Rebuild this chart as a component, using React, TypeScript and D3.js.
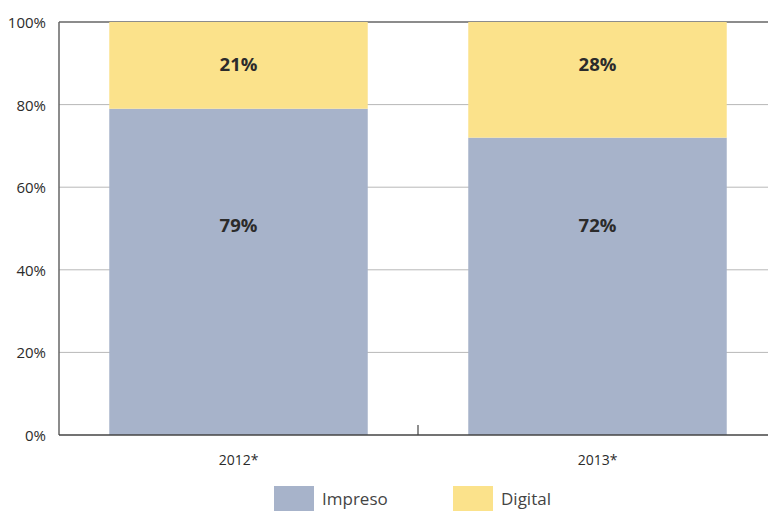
import * as d3 from 'd3'

const years = ['2012*', '2013*']
const impreso = [79, 72]
const digital = [21, 28]
const yTicks = [0, 20, 40, 60, 80, 100]
const seriesNames = ['Impreso', 'Digital']
const seriesColors = ['#a7b3ca', '#fbe28b']

const W = 768
const H = 511
const margin = { top: 22, right: -9, bottom: 76, left: 59 }

export default function App() {
  const innerH = H - margin.top - margin.bottom
  const x = d3.scaleBand<string>()
    .domain(years)
    .range([margin.left, W - margin.right])
    .paddingInner(0.28)
    .paddingOuter(0.14)
  const y = d3.scaleLinear().domain([0, 100]).range([margin.top + innerH, margin.top])
  const font = '"Open Sans", "Noto Sans", sans-serif'
  const mid = margin.left + x.step()

  return (
    <svg width={W} height={H} style={{ position: 'absolute', left: 0, top: 0 }} fontFamily={font}>
      {/* grid */}
      {yTicks.filter(t => t > 0 && t < 100).map(t => (
        <line key={t} x1={margin.left} x2={W} y1={y(t)} y2={y(t)} stroke="#b8b8b8" strokeWidth={1} />
      ))}
      <line x1={margin.left} x2={W} y1={y(100)} y2={y(100)} stroke="#666" strokeWidth={1.5} />

      {/* bars */}
      {years.map((yr, i) => (
        <g key={yr}>
          <rect x={x(yr)} width={x.bandwidth()} y={y(impreso[i])} height={y(0) - y(impreso[i])} fill={seriesColors[0]} />
          <rect x={x(yr)} width={x.bandwidth()} y={y(100)} height={y(impreso[i]) - y(100)} fill={seriesColors[1]} />
          <text x={x(yr)! + x.bandwidth() / 2} y={y(51)} textAnchor="middle" dominantBaseline="central"
            fontSize={18.5} fontWeight="bold" fill="#2b2b2b">{impreso[i]}%</text>
          <text x={x(yr)! + x.bandwidth() / 2} y={y(90)} textAnchor="middle" dominantBaseline="central"
            fontSize={18.5} fontWeight="bold" fill="#2b2b2b">{digital[i]}%</text>
          <text x={x(yr)! + x.bandwidth() / 2} y={y(0) + 24} textAnchor="middle" dominantBaseline="central"
            fontSize={14} fill="#2b2b2b">{yr}</text>
        </g>
      ))}

      {/* axes */}
      <line x1={margin.left} x2={margin.left} y1={y(100)} y2={y(0)} stroke="#666" strokeWidth={1.5} />
      <line x1={margin.left} x2={W} y1={y(0)} y2={y(0)} stroke="#444" strokeWidth={1.5} />
      <line x1={mid} x2={mid} y1={y(0) - 10} y2={y(0)} stroke="#444" strokeWidth={1.2} />
      {yTicks.map(t => (
        <text key={t} x={46} y={y(t)} textAnchor="end" dominantBaseline="central" fontSize={15} fill="#2b2b2b">{t}%</text>
      ))}

      {/* legend */}
      {seriesNames.map((s, i) => (
        <g key={s} transform={`translate(${274 + i * 179},486)`}>
          <rect width={40} height={26} fill={seriesColors[i]} />
          <text x={48} y={12} dominantBaseline="central" fontSize={17} fill="#444">{s}</text>
        </g>
      ))}
    </svg>
  )
}
